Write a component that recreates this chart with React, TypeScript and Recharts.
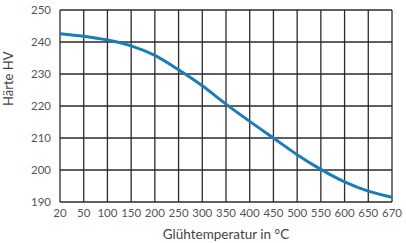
import { LineChart, Line, XAxis, YAxis, CartesianGrid } from 'recharts'

const temperatures = ['20', '50', '100', '150', '200', '250', '300', '350', '400', '450', '500', '550', '600', '650', '670']
const hardness = [242.6, 241.8, 240.6, 238.8, 235.8, 231.3, 226.3, 220.6, 215.2, 210, 204.8, 200.2, 196.3, 193.4, 191.5]
const yTicks = [190, 200, 210, 220, 230, 240, 250]

const data = temperatures.map((t, i) => ({ t, hv: hardness[i] }))

const font = "Lato, 'Open Sans', sans-serif"

export default function App() {
  return (
    <div style={{ position: 'absolute', left: 0, top: 0, background: '#fff' }}>
      <LineChart
        width={406}
        height={243}
        data={data}
        margin={{ top: 10, right: 14, bottom: 0, left: 0 }}
      >
        <CartesianGrid stroke="#2b2b2b" strokeWidth={1.3} />
        <XAxis
          dataKey="t"
          interval={0}
          height={41}
          tickSize={0}
          tickMargin={7}
          axisLine={false}
          tick={{ fill: '#555', fontSize: 11.5, fontFamily: font }}
          label={{
            value: 'Glühtemperatur in °C',
            position: 'insideBottom',
            offset: 4,
            fill: '#444',
            fontSize: 13.5,
            fontFamily: font,
          }}
        />
        <YAxis
          type="number"
          domain={[190, 250]}
          ticks={yTicks}
          width={60}
          tickSize={0}
          tickMargin={9}
          axisLine={false}
          tick={{ fill: '#555', fontSize: 11.5, fontFamily: font }}
          label={{
            value: 'Härte HV',
            angle: -90,
            position: 'insideLeft',
            offset: 8,
            fill: '#444',
            fontSize: 13,
            fontFamily: font,
          }}
        />
        <Line
          type="monotone"
          dataKey="hv"
          stroke="#1a7db8"
          strokeWidth={3}
          dot={false}
          isAnimationActive={false}
        />
      </LineChart>
    </div>
  )
}
